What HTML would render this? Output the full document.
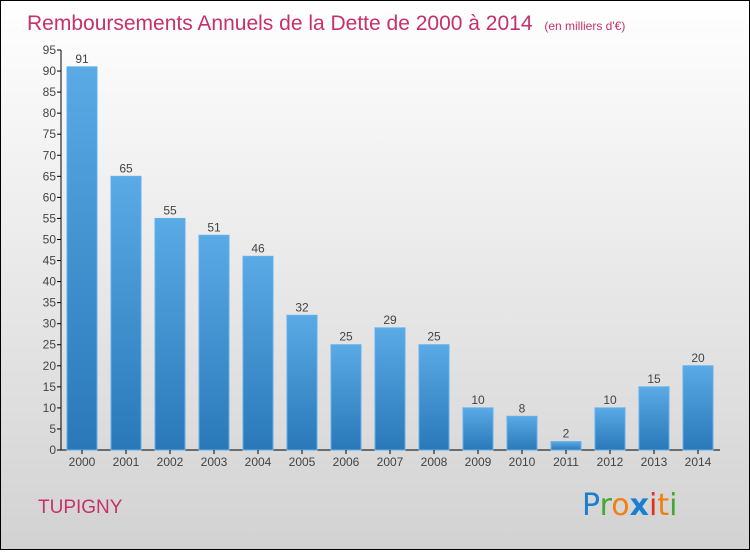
<!DOCTYPE html>
<html><head><meta charset="utf-8"><style>
body{margin:0;width:750px;height:550px;overflow:hidden;font-family:"Liberation Sans",sans-serif}
</style></head><body>
<svg width="750" height="550" xmlns="http://www.w3.org/2000/svg">
<defs>
<linearGradient id="bg" x1="0" y1="0" x2="0" y2="1"><stop offset="0" stop-color="#ffffff"/><stop offset="1" stop-color="#d2d2d2"/></linearGradient>
<linearGradient id="bar" x1="0" y1="0" x2="0" y2="1"><stop offset="0" stop-color="#5aaae6"/><stop offset="1" stop-color="#2a78b8"/></linearGradient>
</defs>
<rect x="0.5" y="0.5" width="749" height="549" fill="url(#bg)" stroke="#000"/>
<text x="27" y="30" font-size="21" fill="#c8306a">Remboursements Annuels de la Dette de 2000 à 2014 <tspan font-size="12" dx="6">(en milliers d'€)</tspan></text>
<g id="yaxis"></g>
<g id="bars"></g>
<text x="38" y="513" font-size="19" fill="#c8306a">TUPIGNY</text>
<g font-size="30" font-family="'DejaVu Sans',sans-serif">
<text x="582" y="515"><tspan fill="#1a7fd0">P</tspan><tspan fill="#44a832">r</tspan><tspan fill="#f08010">o</tspan><tspan fill="#1a7fd0" font-weight="bold">x</tspan><tspan fill="#e03020">i</tspan><tspan fill="#f08010">t</tspan><tspan fill="#44a832">i</tspan></text>
</g>
</svg>
<script>
const categories=["2000","2001","2002","2003","2004","2005","2006","2007","2008","2009","2010","2011","2012","2013","2014"];
const values=[91,65,55,51,46,32,25,29,25,10,8,2,10,15,20];
const yTicks=[0,5,10,15,20,25,30,35,40,45,50,55,60,65,70,75,80,85,90,95];
const NS="http://www.w3.org/2000/svg";
const y0=450,yTop=50,yMax=95;
const yS=v=>y0-v/yMax*(y0-yTop);
const xS=i=>82+i*44;
function mk(t,a,p,txt){const e=document.createElementNS(NS,t);for(const k in a)e.setAttribute(k,a[k]);if(txt!==undefined)e.textContent=txt;p.appendChild(e);return e;}
const ya=document.getElementById('yaxis');
mk('line',{x1:61,y1:yTop,x2:61,y2:y0,stroke:'#000'},ya);
mk('line',{x1:61,y1:y0,x2:720,y2:y0,stroke:'#000'},ya);
yTicks.forEach(v=>{
 const l=mk('line',{x1:57,y1:yS(v),x2:61,y2:yS(v),stroke:'#000'},ya);
 
 
 const t=mk('text',{x:56,y:yS(v)+4,'font-size':12,fill:'#444','text-anchor':'end'},ya,v);
 
 
});
const bg=document.getElementById('bars');
categories.forEach((c,i)=>{
 const v=values[i],x=xS(i);
 const r=mk('rect',{x:x-15,y:yS(v),width:30,height:y0-yS(v),fill:'url(#bar)',stroke:'#62b0ea','stroke-width':1},bg);
 
 
 const vl=mk('text',{x:x,y:yS(v)-4,'font-size':12,fill:'#444','text-anchor':'middle'},bg,v);
 
 
 const tk=mk('line',{x1:x,y1:y0,x2:x,y2:y0+4,stroke:'#000'},bg);
 
 
 const xl=mk('text',{x:x,y:466,'font-size':12,fill:'#444','text-anchor':'middle'},bg,c);
 
 
});
</script>
</body></html>
